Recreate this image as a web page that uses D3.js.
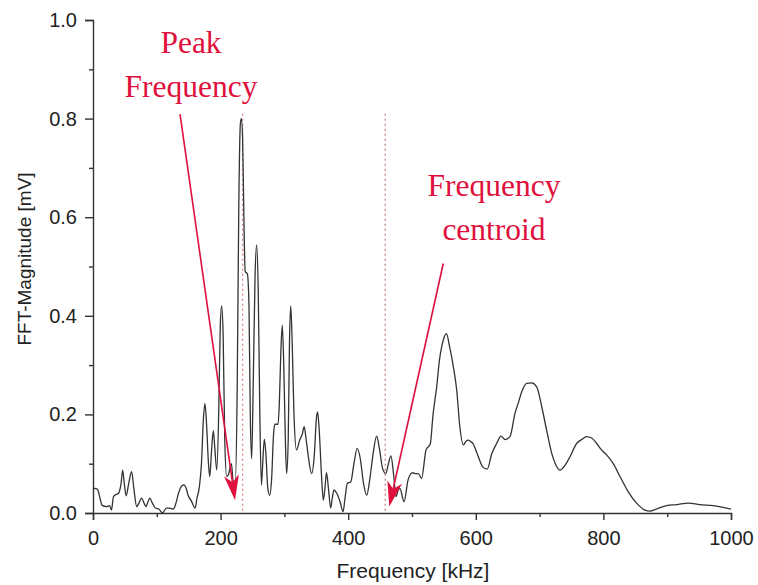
<!DOCTYPE html>
<html>
<head>
<meta charset="utf-8">
<script src="https://cdn.jsdelivr.net/npm/d3@7"></script>
<style>
  html, body { margin: 0; padding: 0; background: #fff; }
  svg { display: block; }
</style>
</head>
<body>
<svg id="chart" width="758" height="585"></svg>
<script>
// ---- data ----
const freqKHz = [0,3,7,11,14,21,26,29,32,37,40,44,46.5,49,52,56,60.5,64,68.5,72,76,80,83,86,89,93,98,103,109,115,120,126,130,134,139,142.6,146,149,154,160,163,166.7,170,173,175.5,178,181,183,186,188.6,191,194,197,199.5,201.7,204,206.5,209.5,212,217,220,223,226,228.5,231,232.5,234.5,236.5,238.5,242,244.5,246.5,248.7,251,254,256.5,259,261.5,264,266,268.5,271,274,277,280,283,285,290,292,294.5,296.7,299,301.5,303.5,306,308,310,312.5,315,319,324,328,331,334,338,342.6,347,350,352,354.5,358,361,363.5,366,369,372.6,375,377.7,382,387,392,395,398.6,404,409,414,419,424,429,434,439,444.6,449,454,459,463,467,471,475,478,481,487.5,494,501,505,510,515,522,528.6,533,538.7,543,546.5,550,554,559,564.8,570,575,580.4,585,588,592,596,600,604,610.6,618,625,632.7,639.5,646,653.6,661.4,667,672,679.8,687.6,695.5,703.3,711,719,725.7,732,740,747.6,758,766,773.7,781.6,789.5,797,805,815.5,826,839,852,865,873,883,899,915,933,951,972,1000];
const magnitudeMV = [0.047,0.05,0.048,0.03,0.016,0.013,0.015,0.006,0.033,0.038,0.04,0.06,0.087,0.06,0.035,0.06,0.084,0.05,0.013,0.02,0.03,0.02,0.013,0.022,0.03,0.02,0.01,0.008,0.0,0.01,0.01,0.008,0.02,0.04,0.055,0.057,0.05,0.036,0.025,0.01,0.03,0.053,0.1,0.19,0.222,0.18,0.1,0.074,0.13,0.167,0.13,0.087,0.2,0.38,0.42,0.36,0.15,0.074,0.077,0.10,0.06,0.06,0.25,0.62,0.79,0.80,0.76,0.6,0.49,0.485,0.42,0.2,0.11,0.25,0.48,0.544,0.45,0.2,0.057,0.1,0.15,0.12,0.05,0.036,0.07,0.16,0.18,0.18,0.22,0.33,0.381,0.3,0.15,0.08,0.15,0.35,0.42,0.33,0.2,0.128,0.148,0.16,0.175,0.15,0.11,0.08,0.12,0.19,0.205,0.17,0.08,0.026,0.05,0.082,0.05,0.01,0.03,0.047,0.04,0.024,0.003,0.03,0.06,0.063,0.1,0.131,0.11,0.06,0.036,0.07,0.12,0.156,0.13,0.09,0.08,0.1,0.116,0.08,0.033,0.045,0.05,0.023,0.068,0.082,0.08,0.08,0.07,0.128,0.14,0.2,0.256,0.31,0.337,0.355,0.364,0.337,0.297,0.25,0.175,0.138,0.146,0.148,0.145,0.14,0.128,0.114,0.094,0.089,0.12,0.141,0.156,0.149,0.155,0.202,0.225,0.246,0.263,0.264,0.256,0.216,0.168,0.121,0.097,0.087,0.097,0.114,0.141,0.149,0.155,0.152,0.141,0.128,0.118,0.10,0.074,0.043,0.02,0.006,0.004,0.008,0.015,0.017,0.02,0.017,0.015,0.008];

const xMajorTicks = [0, 200, 400, 600, 800, 1000];
const xMinorTicks = [100, 300, 500, 700, 900];
const yMajorTicks = [0.0, 0.2, 0.4, 0.6, 0.8, 1.0];
const yMinorTicks = [0.1, 0.3, 0.5, 0.7, 0.9];

const xTitle = "Frequency [kHz]";
const yTitle = "FFT-Magnitude [mV]";

// annotation markers (data units)
const peakFrequency = 234.5;
const centroidFrequency = 458;
const markerTop = 0.81;
const peakLabel = ["Peak", "Frequency"];
const centroidLabel = ["Frequency", "centroid"];
// arrows: [fromFreq, fromMag, toFreq, toMag]
const peakArrow = [136.4, 0.809, 222.6, 0.026];
const centroidArrow = [549, 0.506, 464.4, 0.013];

// ---- layout ----
const W = 758, H = 585;
const margin = { left: 93, right: 27, top: 20, bottom: 72 };
const svg = d3.select("#chart");

const x = d3.scaleLinear().domain([0, 1000]).range([margin.left, W - margin.right]);
const y = d3.scaleLinear().domain([0, 1]).range([H - margin.bottom, margin.top]);

const axisColor = "#333";
const red = "#e0103c";

// x axis
const gx = svg.append("g").attr("transform", `translate(0,${y(0)})`);
gx.call(d3.axisBottom(x).tickValues(xMajorTicks).tickSize(7).tickPadding(11).tickFormat(d3.format("d")));
const gxm = svg.append("g").attr("transform", `translate(0,${y(0)})`);
gxm.call(d3.axisBottom(x).tickValues(xMinorTicks).tickSize(4).tickFormat(""));
gxm.select(".domain").remove();

// y axis
const gy = svg.append("g").attr("transform", `translate(${x(0)},0)`);
gy.call(d3.axisLeft(y).tickValues(yMajorTicks).tickSize(8).tickPadding(8).tickFormat(d3.format(".1f")));
const gym = svg.append("g").attr("transform", `translate(${x(0)},0)`);
gym.call(d3.axisLeft(y).tickValues(yMinorTicks).tickSize(4).tickFormat(""));
gym.select(".domain").remove();

svg.selectAll(".domain").attr("stroke", axisColor).attr("stroke-width", 1.4);
svg.selectAll(".tick line").attr("stroke", axisColor).attr("stroke-width", 1.4);
svg.selectAll(".tick text")
  .attr("fill", "#222")
  .style("font-family", "'Liberation Sans', Arial, sans-serif")
  .style("font-size", "20px");

// axis titles
svg.append("text")
  .attr("x", 413).attr("y", 578)
  .attr("text-anchor", "middle")
  .attr("fill", "#222")
  .style("font-family", "'Liberation Sans', Arial, sans-serif")
  .style("font-size", "21px")
  .text(xTitle);

svg.append("text")
  .attr("transform", `translate(31,259) rotate(-90)`)
  .attr("text-anchor", "middle")
  .attr("fill", "#222")
  .style("font-family", "'Liberation Sans', Arial, sans-serif")
  .style("font-size", "19px")
  .text(yTitle);

// marker dotted lines
svg.append("line")
  .attr("x1", x(peakFrequency)).attr("x2", x(peakFrequency))
  .attr("y1", y(markerTop)).attr("y2", y(0))
  .attr("stroke", "#d88a8a").attr("stroke-width", 1.3)
  .attr("stroke-dasharray", "2,3");
svg.append("line")
  .attr("x1", x(centroidFrequency)).attr("x2", x(centroidFrequency))
  .attr("y1", y(markerTop)).attr("y2", y(0))
  .attr("stroke", "#b86a6a").attr("stroke-width", 1.1)
  .attr("stroke-dasharray", "2,3");

// spectrum
const data = freqKHz.map((f, i) => [f, magnitudeMV[i]]);
const line = d3.line().x(d => x(d[0])).y(d => y(d[1])).curve(d3.curveMonotoneX);
svg.append("path")
  .datum(data)
  .attr("d", line)
  .attr("fill", "none")
  .attr("stroke", "#333")
  .attr("stroke-width", 1.3)
  .attr("stroke-linejoin", "round");

// arrows
function drawArrow(a) {
  const x1 = x(a[0]), y1 = y(a[1]), x2 = x(a[2]), y2 = y(a[3]);
  const ang = Math.atan2(y2 - y1, x2 - x1);
  const len = 25, half = 7.5, notch = 18;
  const bx = x2 - len * Math.cos(ang), by = y2 - len * Math.sin(ang);
  const nx = x2 - notch * Math.cos(ang), ny = y2 - notch * Math.sin(ang);
  const px = -Math.sin(ang), py = Math.cos(ang);
  svg.append("line")
    .attr("x1", x1).attr("y1", y1).attr("x2", nx).attr("y2", ny)
    .attr("stroke", red).attr("stroke-width", 1.6);
  svg.append("path")
    .attr("d", `M${x2},${y2}L${bx + half * px},${by + half * py}L${nx},${ny}L${bx - half * px},${by - half * py}Z`)
    .attr("fill", red);
}
drawArrow(peakArrow);
drawArrow(centroidArrow);

// annotation labels
function label(lines, cx, baseY) {
  const t = svg.append("text")
    .attr("text-anchor", "middle")
    .attr("fill", red)
    .style("font-family", "'Liberation Serif', 'Times New Roman', serif")
    .style("font-size", "31.5px");
  lines.forEach((s, i) => {
    t.append("tspan").attr("x", cx).attr("y", baseY + i * 44).text(s);
  });
}
label(peakLabel, 191, 53);
label(centroidLabel, 494, 196);
</script>
</body>
</html>
